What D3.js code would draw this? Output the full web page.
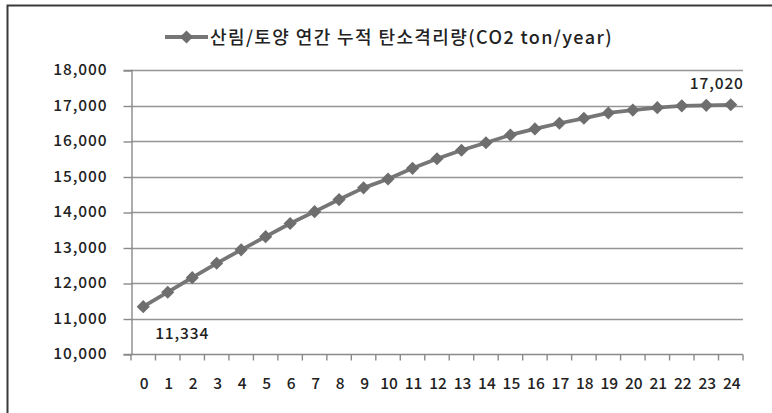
<!DOCTYPE html>
<html>
<head>
<meta charset="utf-8">
<script src="https://cdn.jsdelivr.net/npm/d3@7"></script>
<style>
  html, body { margin: 0; padding: 0; background: #fff; }
  svg { display: block; }
  text { font-family: "Noto Sans CJK KR", "Open Sans", sans-serif; fill: #222; }
</style>
</head>
<body>
<svg id="chart" width="772" height="413"></svg>
<script>
// Years after planting (0..24)
const years = ["0","1","2","3","4","5","6","7","8","9","10","11","12","13","14","15","16","17","18","19","20","21","22","23","24"];
// Cumulative annual carbon sequestration of forest/soil (CO2 ton/year)
const sequestration = [11334, 11740, 12150, 12555, 12935, 13305, 13675, 14010, 14350, 14680,
                       14930, 15230, 15500, 15740, 15950, 16170, 16340, 16500, 16640, 16790,
                       16870, 16940, 16990, 17005, 17020];
const yTicks = [10000, 11000, 12000, 13000, 14000, 15000, 16000, 17000, 18000];
const seriesName = "산림/토양 연간 누적 탄소격리량(CO2 ton/year)";
// Points whose values are written next to them
const labelled = [0, 24];

const svg = d3.select("#chart");
const W = 772, H = 413;

// outer frame (right/bottom run past the canvas)
svg.append("path")
  .attr("d", `M7.5,${H + 2} V5.5 H${W + 2}`)
  .attr("fill", "none").attr("stroke", "#3a3a3a").attr("stroke-width", 2);

const plot = { left: 131, right: 743, top: 70, bottom: 354 };

const x = d3.scaleBand().domain(years).range([plot.left, plot.right]).padding(0);
const y = d3.scaleLinear().domain([10000, 18000]).range([plot.bottom, plot.top]);
const fmt = d3.format(",");

const labelFont = { size: "15.5px", weight: 500, spacing: "0.9px" };

// horizontal gridlines
svg.append("g").selectAll("line").data(yTicks.filter(d => d > 10000)).join("line")
  .attr("x1", plot.left).attr("x2", plot.right)
  .attr("y1", d => Math.round(y(d)) + 0.5).attr("y2", d => Math.round(y(d)) + 0.5)
  .attr("stroke", "#959595").attr("stroke-width", 1.4);

// y axis
const yAxis = svg.append("g")
  .attr("transform", `translate(${plot.left + 0.5},0)`)
  .call(d3.axisLeft(y).tickValues(yTicks).tickFormat(fmt).tickSize(8).tickPadding(16));
yAxis.select(".domain").attr("stroke", "#8a8a8a").attr("stroke-width", 1.4);
yAxis.selectAll(".tick line").attr("stroke", "#8a8a8a").attr("stroke-width", 1.4)
  .attr("transform", "translate(0,0.5)");
yAxis.selectAll(".tick text")
  .style("font-family", "'Noto Sans CJK KR', 'Open Sans', sans-serif")
  .style("font-size", labelFont.size).style("font-weight", labelFont.weight)
  .style("letter-spacing", labelFont.spacing)
  .attr("fill", "#222");

// x axis with ticks at category boundaries
const xg = svg.append("g").attr("transform", `translate(0,${Math.round(plot.bottom) + 0.5})`);
xg.append("line").attr("x1", plot.left).attr("x2", plot.right)
  .attr("stroke", "#8a8a8a").attr("stroke-width", 1.4);
const bounds = years.map(d => x(d)).concat([plot.right]);
xg.selectAll("line.tk").data(bounds).join("line").attr("class", "tk")
  .attr("x1", d => d).attr("x2", d => d).attr("y1", 0).attr("y2", 6)
  .attr("stroke", "#8a8a8a").attr("stroke-width", 1.4);
xg.selectAll("text").data(years).join("text")
  .attr("x", d => x(d) + x.bandwidth() / 2 + 1)
  .attr("y", 34)
  .attr("text-anchor", "middle")
  .style("font-size", labelFont.size).style("font-weight", labelFont.weight)
  .text(d => d);

// series line
const cx = (d, i) => x(years[i]) + x.bandwidth() / 2;
const line = d3.line().x((d, i) => cx(d, i)).y(d => y(d));
svg.append("path").datum(sequestration)
  .attr("d", line).attr("fill", "none")
  .attr("stroke", "#767676").attr("stroke-width", 3.8).attr("stroke-linejoin", "round");

// diamond markers
const diamond = d3.symbol().type(d3.symbolDiamond2).size(110);
svg.append("g").selectAll("path").data(sequestration).join("path")
  .attr("transform", (d, i) => `translate(${cx(d, i)},${y(d)})`)
  .attr("d", diamond)
  .attr("fill", "#6e6e6e");

// value labels
svg.append("g").selectAll("text").data(labelled).join("text")
  .attr("x", i => cx(sequestration[i], i) + (i === 0 ? 39 : -14))
  .attr("y", i => y(sequestration[i]) + (i === 0 ? 32 : -16))
  .attr("text-anchor", "middle")
  .style("font-size", labelFont.size).style("font-weight", labelFont.weight)
  .style("letter-spacing", labelFont.spacing)
  .text(i => fmt(sequestration[i]));

// legend
const lg = svg.append("g").attr("transform", "translate(165,37)");
lg.append("line").attr("x1", 0).attr("x2", 43).attr("y1", 0).attr("y2", 0)
  .attr("stroke", "#767676").attr("stroke-width", 3.8);
lg.append("path").attr("transform", "translate(21.5,0)").attr("d", diamond).attr("fill", "#6e6e6e");
lg.append("text").attr("x", 45).attr("y", 6.5)
  .style("font-size", "18px").style("font-weight", 500)
  .style("letter-spacing", "1.4px")
  .text(seriesName);
</script>
</body>
</html>
